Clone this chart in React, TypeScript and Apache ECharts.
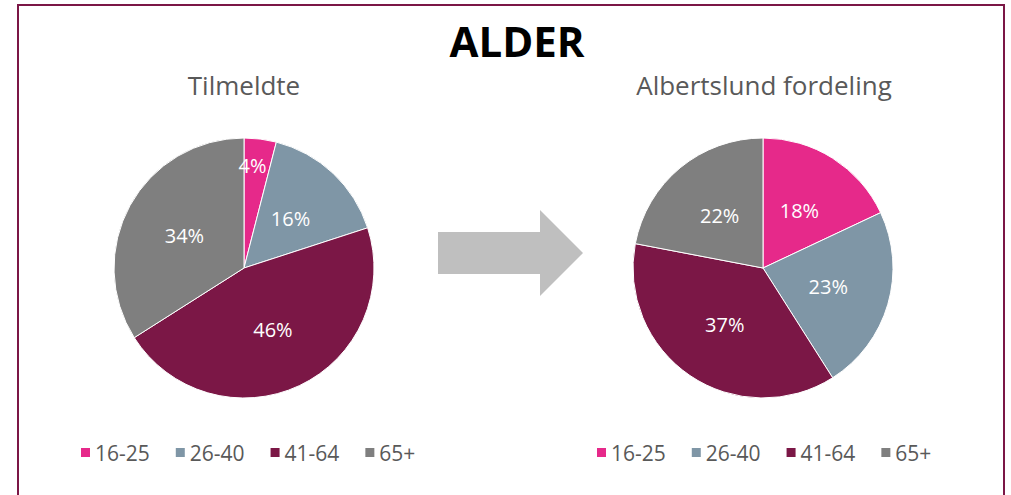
import React, { useEffect, useRef } from "react";
import * as echarts from "echarts";

const categories = ["16-25", "26-40", "41-64", "65+"];
const tilmeldteValues = [4, 16, 46, 34];
const albertslundValues = [18, 23, 37, 22];
const colors = ["#E6298A", "#7F96A6", "#7B1746", "#7F7F7F"];
const mainTitle = "ALDER";
const leftTitle = "Tilmeldte";
const rightTitle = "Albertslund fordeling";

const FONT = "'Open Sans', 'Noto Sans', sans-serif";

export default function App() {
  const ref = useRef<HTMLDivElement>(null);
  useEffect(() => {
    document.body.style.margin = "0";
    const chart = echarts.init(ref.current!, null, { renderer: "svg" });
    const mkData = (vals: number[]) =>
      categories.map((c, i) => ({ name: c, value: vals[i], itemStyle: { color: colors[i] } }));
    const pieBase = {
      type: "pie",
      radius: 130,
      startAngle: 90,
      clockwise: true,
      silent: true,
      itemStyle: { borderColor: "#fff", borderWidth: 1 },
      label: {
        show: true,
        position: "inside",
        formatter: "{c}%",
        color: "#fff",
        fontSize: 20,
        fontFamily: FONT,
      },
      labelLine: { show: false },
    };
    const legendBase = {
      top: 437,
      icon: "rect",
      itemWidth: 11,
      itemHeight: 11,
      itemGap: 24,
      data: categories,
      selectedMode: false,
      textStyle: { fontSize: 21, color: "#595959", fontFamily: FONT, padding: [0, 0, 0, -1] },
    };
    chart.setOption({
      animation: false,
      color: colors,
      title: [
        {
          text: mainTitle,
          left: 512,
          textAlign: "center",
          top: 14,
          textStyle: { fontSize: 42, fontWeight: "bold", color: "#000", fontFamily: FONT },
        },
        {
          text: leftTitle,
          left: 239,
          textAlign: "center",
          top: 67,
          textStyle: { fontSize: 26, fontWeight: "normal", color: "#595959", fontFamily: FONT },
        },
        {
          text: rightTitle,
          left: 759,
          textAlign: "center",
          top: 67,
          textStyle: { fontSize: 26, fontWeight: "normal", color: "#595959", fontFamily: FONT },
        },
      ],
      legend: [
        { ...legendBase, left: 74 },
        { ...legendBase, left: 590 },
      ],
      graphic: [
        {
          type: "rect",
          shape: { x: 18, y: 5, width: 986, height: 520 },
          style: { fill: "none", stroke: "#7B1746", lineWidth: 2 },
        },
        {
          type: "polygon",
          shape: {
            points: [
              [438, 232],
              [540, 232],
              [540, 210],
              [583, 253],
              [540, 296],
              [540, 274],
              [438, 274],
            ],
          },
          style: { fill: "#BFBFBF" },
        },
      ],
      series: [
        {
          ...pieBase,
          name: leftTitle,
          center: [244, 268],
          data: mkData(tilmeldteValues),
          labelLayout: (params: any) => (params.dataIndex === 0 ? { dy: -35 } : {}),
        },
        { ...pieBase, name: rightTitle, center: [763, 268], data: mkData(albertslundValues) },
      ],
    });
    return () => chart.dispose();
  }, []);
  return <div ref={ref} style={{ width: 1011, height: 495 }} />;
}
